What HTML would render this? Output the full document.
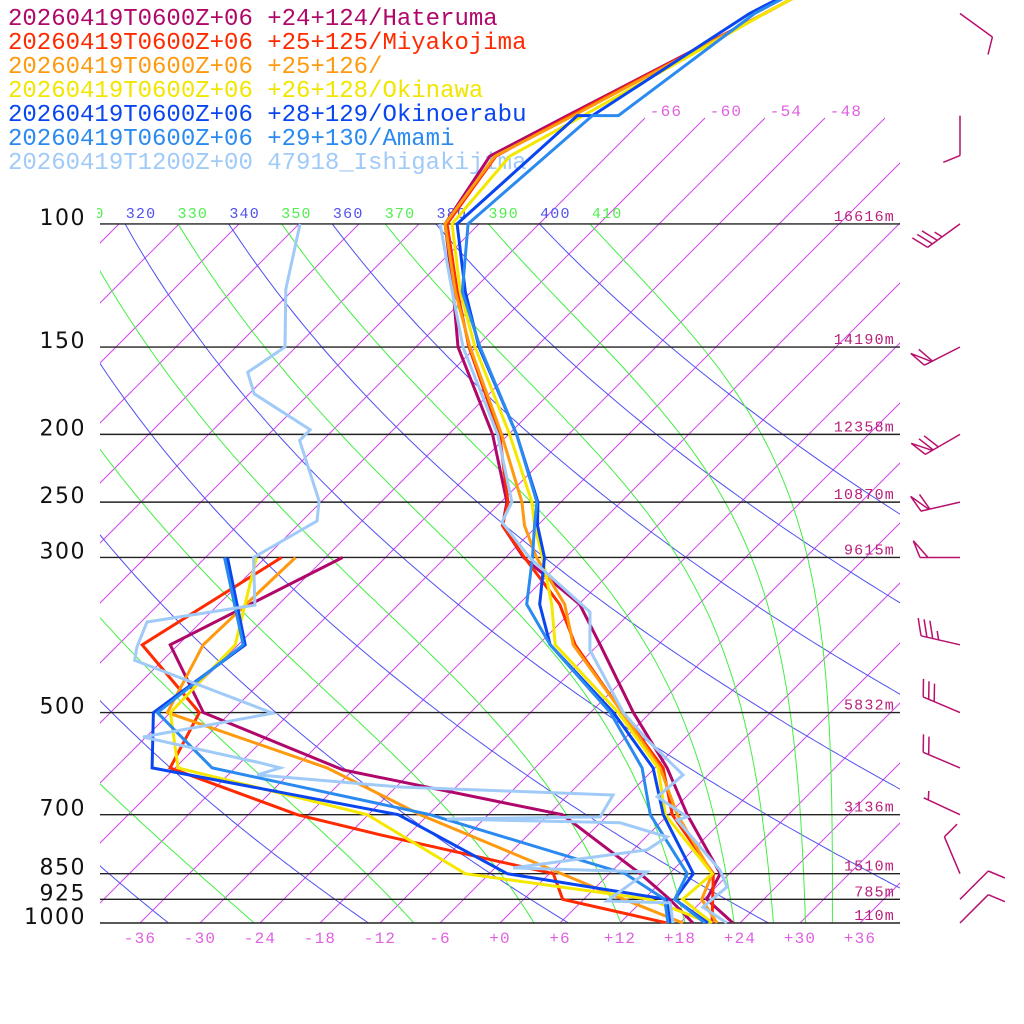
<!DOCTYPE html>
<html><head><meta charset="utf-8"><title>Skew-T</title>
<style>
html,body{margin:0;padding:0;background:#fff;width:1024px;height:1024px;overflow:hidden}
svg{display:block}
.mono{font-family:"Liberation Mono","DejaVu Sans Mono",monospace}
</style></head>
<body>
<svg id="chart" width="1024" height="1024" viewBox="0 0 1024 1024" xmlns="http://www.w3.org/2000/svg">
<defs>
<clipPath id="plotClip"><rect x="100" y="0" width="800" height="923.5"/></clipPath>
<clipPath id="lblClip"><rect x="97" y="195" width="810" height="30"/></clipPath>
</defs>
<g id="legend" class="mono" font-size="24">
<text x="8" y="25" fill="#b0086a">20260419T0600Z+06 +24+124/Hateruma</text>
<text x="8" y="49" fill="#ff2a00">20260419T0600Z+06 +25+125/Miyakojima</text>
<text x="8" y="73" fill="#ff9a10">20260419T0600Z+06 +25+126/</text>
<text x="8" y="97" fill="#f2e600">20260419T0600Z+06 +26+128/Okinawa</text>
<text x="8" y="121" fill="#0a46f0">20260419T0600Z+06 +28+129/Okinoerabu</text>
<text x="8" y="145" fill="#2a8af0">20260419T0600Z+06 +29+130/Amami</text>
<text x="8" y="169" fill="#a0caf8">20260419T1200Z+00 47918_Ishigakijima</text>
</g>
<g id="grid" clip-path="url(#plotClip)"></g>
<g id="plines"></g>
<g id="labels"></g>
<g id="series" clip-path="url(#plotClip)"></g>
<g id="barbs"></g>
</svg>
<script>
// ---------- data ----------
const pressureLevels = [1000,925,850,700,500,300,250,200,150,100];
const heightLabels = ["110m","785m","1510m","3136m","5832m","9615m","10870m","12358m","14190m","16616m"];
const tempTicks = [-36,-30,-24,-18,-12,-6,0,6,12,18,24,30,36];
const topIsoLabels = [-66,-60,-54,-48];
const dryThetas = [200,220,240,260,280,300,320,340,360,380,400];
const moistThetaEs = [210,230,250,270,290,310,330,350,370,390,410];
const thetaLabels = [310,320,330,340,350,360,370,380,390,400,410];

const stdP = [1000,925,850,700,600,500,400,350,300,270,250,200,150,125,100,80,70,50,40];
const blueP = [1000,925,850,700,600,500,400,350,300,270,250,200,150,125,100,70,70,50,40];

const haterumaP = stdP;
const haterumaT = [23.3,18.3,17.1,7.9,1.2,-7.7,-17.8,-23.9,-34.2,-39.5,-41.4,-49.6,-61.8,-67.8,-75.4,-77.7,-74.0,-64.5,-58.7];
const haterumaTdP = [1000,925,850,700,604,500,400,300];
const haterumaTd = [19.3,14.6,9.1,-4.6,-31.0,-50.7,-60.8,-52.3];

const miyakoP = stdP;
const miyakoT = [21.2,18.9,16.4,6.4,0.8,-8.8,-20.3,-25.9,-34.1,-39.5,-41.3,-48.9,-60.7,-67.4,-75.2,-77.1,-73.7,-64.5,-58.7];
const miyakoTdP = [1000,925,850,748,700,600,500,400,300];
const miyakoTd = [16.7,3.9,0.4,-20.8,-31.1,-48.5,-51.1,-63.6,-58.4];

const p125P = stdP;
const p125T = [21.7,17.8,16.3,6.9,0.5,-8.8,-20.5,-25.4,-32.9,-37.3,-39.9,-48.7,-60.6,-67.6,-75.4,-77.2,-73.4,-64.5,-58.7];
const p125TdP = [1000,888,700,600,500,400,300];
const p125Td = [18.3,5.7,-18.8,-32.8,-54.3,-57.5,-57.0];

const okinawaP = stdP;
const okinawaT = [21.2,15.9,16.3,5.7,0.3,-9.2,-22.3,-26.7,-32.3,-36.3,-38.9,-47.9,-60.1,-67.1,-74.7,-75.7,-72.4,-64.5,-58.7];
const okinawaTdP = [1000,925,850,700,600,500,400,300];
const okinawaTd = [21.0,12.6,-8.4,-24.1,-47.7,-54.0,-54.3,-60.9];

const okinoeP = blueP;
const okinoeT = [20.8,15.1,14.4,5.5,-0.2,-9.7,-22.8,-27.9,-32.1,-36.0,-38.3,-47.2,-59.7,-66.6,-74.2,-73.0,-71.5,-66.0,-59.5];
const okinoeTdP = [1000,925,850,700,600,500,400,300];
const okinoeTd = [17.0,14.3,-4.2,-21.0,-50.3,-55.7,-53.3,-63.8];

const amamiP = blueP;
const amamiT = [20.5,15.1,13.8,4.2,-1.3,-10.0,-22.8,-29.2,-33.3,-36.3,-38.4,-47.2,-59.6,-66.9,-73.1,-71.5,-68.9,-65.5,-59.5];
const amamiTdP = [1000,925,850,700,600,500,400,300];
const amamiTd = [16.8,14.1,7.6,-17.8,-44.3,-55.3,-53.5,-64.1];

const ishiP = [1000,949,888,840,712,705,660,614,547,500,407,359,300,267,250,200,150,125,100];
const ishiT = [22.7,18.7,19.1,16.7,7.4,8.1,3.1,3.5,-3.6,-8.7,-18.3,-22.1,-33.6,-39.9,-40.9,-49.1,-61.3,-67.9,-75.9];
const ishiTdP = [1000,936,930,845,834,786,753,719,710,705,656,639,614,600,590,542,501,421,403,371,351,300,266,249,204,197,175,163,150,124,100];
const ishiTd = [17.3,15.0,8.5,9.6,-4.2,7.4,8.1,2.0,-15.7,-0.6,-1.5,-23.6,-39.1,-37.5,-40.0,-54.3,-43.7,-62.8,-63.9,-65.4,-56.3,-61.2,-58.5,-60.3,-68.3,-68.3,-77.5,-80.3,-79.1,-84.8,-89.9];

const barbP = [50,70,100,150,200,250,300,400,500,600,700,850,925,1000];
const barbDir = [36,90,144,153,150,167,180,193,203,203,205,247,315,315];
const barbSpd = [10,10,35,60,70,60,50,35,30,20,5,10,10,10];

// ---------- axes ----------
const NS = "http://www.w3.org/2000/svg";
const Y = p => 923 - 303.6*Math.log(1000/p);
const X = (t,p) => 500 + 10*t + (923 - Y(p));
function mk(tag, attrs, parent){const e=document.createElementNS(NS,tag);for(const k in attrs)e.setAttribute(k,attrs[k]);parent.appendChild(e);return e;}
function pathD(pts){return pts.map((q,i)=>(i?"L":"M")+q[0].toFixed(1)+","+q[1].toFixed(1)).join("");}

const grid=document.getElementById("grid");
for(let t=-150;t<=42;t+=6){
  const yTop = t>=-66 ? 118 : 224;
  const pTop = 1000*Math.exp(-(923-yTop)/303.6);
  const el=mk("line",{x1:X(t,1000),y1:923,x2:X(t,pTop),y2:yTop,stroke:"#d048e8","stroke-width":1},grid);
  
  
}
for(const th of dryThetas){
  const pts=[];
  for(let p=1000;p>=100;p-=5){pts.push([X(th*Math.pow(p/1000,0.2857)-273.15,p),Y(p)]);}
  const el=mk("path",{d:pathD(pts),fill:"none",stroke:"#5050f0","stroke-width":1},grid);
  
  
}
// Bolton saturated equivalent potential temperature
function thetaE(T,p){const tc=T-273.15;const es=6.112*Math.exp(17.67*tc/(tc+243.5));const r=1000*0.622*es/Math.max(p-es,1);
  return T*Math.pow(1000/p,0.2854*(1-0.00028*r))*Math.exp((3.376/T-0.00254)*r*(1+0.00081*r));}
function solveT(te,p){let lo=120,hi=340;for(let i=0;i<50;i++){const m=(lo+hi)/2;if(thetaE(m,p)>te)hi=m;else lo=m;}return (lo+hi)/2;}
for(const te of moistThetaEs){
  const pts=[];
  for(let p=1000;p>=100;p-=5){pts.push([X(solveT(te,p)-273.15,p),Y(p)]);}
  const el=mk("path",{d:pathD(pts),fill:"none",stroke:"#44ee44","stroke-width":1},grid);
  
  
}
const pl=document.getElementById("plines");
const lb=document.getElementById("labels");
pressureLevels.forEach((p,i)=>{
  const y=Y(p);
  const l=mk("line",{x1:100,y1:y,x2:900,y2:y,stroke:"#222","stroke-width":1.4},pl);
  
  
  const t=mk("text",{x:86,y:y+1,"text-anchor":"end","font-family":"DejaVu Sans, Liberation Sans, sans-serif","font-size":22,"letter-spacing":1.5,fill:"#111"},lb);
  t.textContent=String(p);
  
  
  const h=mk("text",{x:895,y:y-3,"text-anchor":"end",class:"mono","font-size":15,"letter-spacing":1.2,fill:"#b8207a"},lb);
  h.textContent=heightLabels[i];
  
  
});
tempTicks.forEach(t=>{
  const e=mk("text",{x:500+10*t,y:943,"text-anchor":"middle",class:"mono","font-size":16,"letter-spacing":1.2,fill:"#e060e0"},lb);
  e.textContent=(t<0?"-":"+")+Math.abs(t);
  
  
});
topIsoLabels.forEach(t=>{
  const pTop=1000*Math.exp(-(923-118)/303.6);
  const e=mk("text",{x:X(t,pTop)+21,y:116,"text-anchor":"middle",class:"mono","font-size":16,"letter-spacing":1.2,fill:"#e060e0"},lb);
  e.textContent=String(t);
  
  
});
const tlg=mk("g",{"clip-path":"url(#lblClip)"},lb);
thetaLabels.forEach(th=>{
  const T=th*Math.pow(0.1,0.2857)-273.15;
  const e=mk("text",{x:X(T,100)+16,y:218,"text-anchor":"middle",class:"mono","font-size":15,"letter-spacing":1.2,fill:(th/10)%2===0?"#5050f0":"#50ee50"},tlg);
  e.textContent=String(th);
  
  
});

// ---------- profiles ----------
const sg=document.getElementById("series");
function profile(ps,ts,color,name){
  const pts=ps.map((p,i)=>[X(ts[i],p),Y(p)]);
  const el=mk("path",{d:pathD(pts),fill:"none",stroke:color,"stroke-width":3,"stroke-linejoin":"miter"},sg);
  
  
}
profile(haterumaP,haterumaT,"#b0086a","hateruma-temperature");
profile(haterumaTdP,haterumaTd,"#b0086a","hateruma-dewpoint");
profile(miyakoP,miyakoT,"#ff2a00","miyakojima-temperature");
profile(miyakoTdP,miyakoTd,"#ff2a00","miyakojima-dewpoint");
profile(p125P,p125T,"#ff9a10","p25-126-temperature");
profile(p125TdP,p125Td,"#ff9a10","p25-126-dewpoint");
profile(okinawaP,okinawaT,"#f5e800","okinawa-temperature");
profile(okinawaTdP,okinawaTd,"#f5e800","okinawa-dewpoint");
profile(okinoeP,okinoeT,"#0a46f0","okinoerabu-temperature");
profile(okinoeTdP,okinoeTd,"#0a46f0","okinoerabu-dewpoint");
profile(amamiP,amamiT,"#2a8af0","amami-temperature");
profile(amamiTdP,amamiTd,"#2a8af0","amami-dewpoint");
profile(ishiP,ishiT,"#a0caf8","ishigakijima-temperature");
profile(ishiTdP,ishiTd,"#a0caf8","ishigakijima-dewpoint");

// ---------- wind barbs ----------
const bg=document.getElementById("barbs");
barbP.forEach((p,i)=>{
  const ox=960, oy=Y(p), a=barbDir[i]*Math.PI/180, L=40;
  const ux=Math.cos(a), uy=Math.sin(a);
  const ex=ox+ux*L, ey=oy+uy*L;
  const ba=a+68*Math.PI/180, bx=Math.cos(ba), by=Math.sin(ba);
  let d="M"+ox.toFixed(1)+","+oy.toFixed(1)+"L"+ex.toFixed(1)+","+ey.toFixed(1);
  let s=barbSpd[i], pos=0;
  let np=Math.floor(s/50); s-=np*50;
  let nf=Math.floor(s/10); s-=nf*10;
  let nh=s>=5?1:0;
  for(let k=0;k<np;k++){
    const x0=ex-ux*pos, y0=ey-uy*pos, x1=ex-ux*(pos+8), y1=ey-uy*(pos+8);
    d+="M"+x0.toFixed(1)+","+y0.toFixed(1)+"L"+(x0+bx*18).toFixed(1)+","+(y0+by*18).toFixed(1)+"L"+x1.toFixed(1)+","+y1.toFixed(1);
    pos+=9;
  }
  for(let k=0;k<nf;k++){
    const x0=ex-ux*pos, y0=ey-uy*pos;
    d+="M"+x0.toFixed(1)+","+y0.toFixed(1)+"l"+(bx*18).toFixed(1)+","+(by*18).toFixed(1);
    pos+=6;
  }
  if(nh){
    if(pos===0)pos=5;
    const x0=ex-ux*pos, y0=ey-uy*pos;
    d+="M"+x0.toFixed(1)+","+y0.toFixed(1)+"l"+(bx*9).toFixed(1)+","+(by*9).toFixed(1);
  }
  const el=mk("path",{d:d,fill:"none",stroke:"#b8106e","stroke-width":1.5},bg);
  
  
});
</script>
</body></html>
